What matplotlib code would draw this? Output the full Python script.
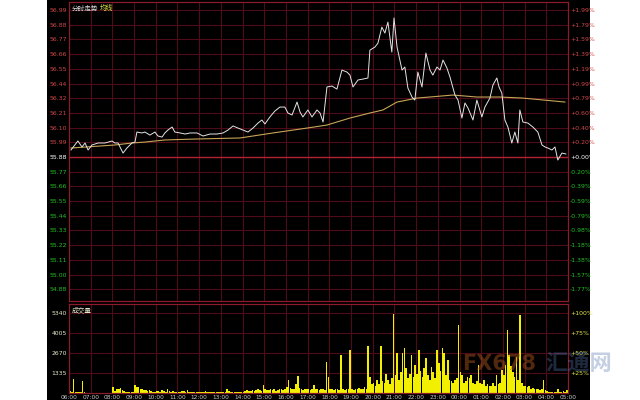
import matplotlib
matplotlib.use("Agg")
import matplotlib.pyplot as plt
from matplotlib.patches import Rectangle

# Datos (horas desde las 06:00)
price_t = [0.09, 0.37, 0.41, 0.60, 0.74, 0.88, 1.06, 1.34, 1.66, 1.98, 2.12, 2.26, 2.49, 2.67,
           2.90, 3.04, 3.13, 3.36, 3.50, 3.73, 3.96, 4.10, 4.29, 4.42, 4.56, 4.75, 4.88, 5.12,
           5.35, 5.58, 5.90, 6.18, 6.50, 6.82, 7.10, 7.33, 7.56, 7.79, 8.02, 8.25, 8.48, 8.71,
           8.89, 9.03, 9.26, 9.49, 9.72, 9.95, 10.09, 10.28, 10.51, 10.65, 10.78, 11.01, 11.20,
           11.43, 11.57, 11.71, 11.89, 12.12, 12.35, 12.58, 12.81, 12.95, 13.09, 13.32, 13.55,
           13.78, 13.87, 14.10, 14.24, 14.42, 14.56, 14.70, 14.88, 14.98, 15.12, 15.35, 15.48,
           15.62, 15.81, 15.94, 16.08, 16.27, 16.45, 16.64, 16.77, 16.96, 17.10, 17.24, 17.42,
           17.56, 17.70, 17.79, 17.93, 18.11, 18.25, 18.39, 18.62, 18.80, 19.03, 19.17, 19.40,
           19.54, 19.72, 19.82, 19.95, 20.09, 20.23, 20.41, 20.55, 20.69, 20.78, 20.92, 21.15,
           21.38, 21.61, 21.80, 21.94, 22.07, 22.26, 22.40, 22.53, 22.72, 22.90]
price = [55.933, 55.993, 56.001, 55.956, 55.986, 55.933, 55.971, 55.986, 55.986, 56.001, 55.986,
         55.986, 55.910, 55.948, 55.986, 55.993, 56.069, 56.062, 56.069, 56.046, 56.069, 56.039,
         56.031, 56.062, 56.084, 56.107, 56.069, 56.062, 56.054, 56.062, 56.062, 56.039, 56.054,
         56.054, 56.062, 56.084, 56.115, 56.099, 56.084, 56.069, 56.099, 56.137, 56.160, 56.130,
         56.183, 56.228, 56.258, 56.258, 56.213, 56.198, 56.296, 56.220, 56.183, 56.236, 56.183,
         56.236, 56.213, 56.145, 56.410, 56.417, 56.394, 56.538, 56.523, 56.500, 56.410, 56.463,
         56.470, 56.478, 56.689, 56.712, 56.742, 56.863, 56.818, 56.901, 56.674, 56.932, 56.712,
         56.538, 56.561, 56.402, 56.334, 56.311, 56.523, 56.410, 56.667, 56.538, 56.500, 56.561,
         56.538, 56.614, 56.553, 56.485, 56.402, 56.349, 56.311, 56.175, 56.289, 56.251, 56.160,
         56.311, 56.183, 56.258, 56.326, 56.425, 56.478, 56.410, 56.364, 56.160, 56.107, 55.986,
         56.069, 55.986, 56.236, 56.145, 56.137, 56.107, 56.069, 55.971, 55.956, 55.948, 55.933,
         55.956, 55.857, 55.910, 55.903]

avg_t = [0.09, 2.12, 2.90, 3.50, 4.42, 5.81, 7.88, 9.40, 10.97, 11.89, 12.95, 13.87, 14.47,
         15.12, 16.04, 17.70, 18.80, 19.86, 20.92, 22.86]
avg_price = [55.948, 55.971, 55.986, 55.993, 56.009, 56.016, 56.024, 56.062, 56.099, 56.122,
             56.175, 56.213, 56.236, 56.296, 56.326, 56.349, 56.334, 56.334, 56.326, 56.296]

# Volumen cada 5 minutos, una fila por hora (06:00 ... 04:00)
volume = [
    [120, 80, 930, 100, 60, 60, 50, 800, 40, 30, 30, 20],
    [30, 20, 20, 30, 20, 20, 30, 20, 20, 20, 30, 20],
    [400, 150, 300, 250, 320, 200, 150, 100, 80, 60, 50, 60],
    [530, 420, 380, 300, 250, 220, 200, 150, 180, 120, 100, 90],
    [120, 150, 100, 200, 150, 100, 250, 120, 100, 150, 80, 100],
    [100, 80, 150, 120, 100, 200, 90, 80, 100, 70, 60, 80],
    [80, 60, 100, 150, 80, 60, 70, 50, 60, 50, 60, 80],
    [70, 60, 50, 250, 150, 80, 60, 100, 70, 60, 80, 60],
    [100, 150, 200, 150, 120, 200, 150, 180, 250, 200, 150, 530],
    [250, 200, 180, 300, 200, 250, 150, 200, 300, 250, 200, 300],
    [400, 870, 350, 250, 300, 600, 1130, 350, 250, 200, 300, 250],
    [250, 200, 300, 530, 250, 300, 200, 250, 300, 200, 2070, 1070],
    [300, 250, 200, 300, 250, 200, 2540, 250, 200, 300, 250, 2870],
    [250, 200, 300, 250, 350, 300, 250, 400, 300, 3140, 1070, 600],
    [700, 500, 900, 600, 3140, 800, 700, 1300, 900, 600, 1000, 5270],
    [1200, 2670, 900, 1400, 2670, 3000, 1700, 1000, 1300, 2540, 1100, 1870],
    [1300, 2870, 1500, 1100, 1700, 2340, 1200, 900, 1740, 1400, 1000, 2900],
    [2000, 1500, 3000, 2670, 1200, 2200, 900, 800, 700, 900, 1000, 4540],
    [1400, 1200, 700, 800, 1100, 1000, 1200, 700, 600, 800, 1870, 700],
    [600, 900, 500, 600, 500, 450, 700, 500, 1200, 600, 700, 1540],
    [1200, 1870, 4200, 2540, 1800, 1400, 1100, 2400, 900, 5200, 700, 500],
    [500, 400, 450, 300, 350, 250, 300, 250, 200, 300, 870, 200],
    [150, 100, 100, 80, 100, 80, 300, 100, 80, 150, 100, 200],
]

time_labels = ["06:00", "07:00", "08:00", "09:00", "10:00", "11:00", "12:00", "13:00",
               "14:00", "15:00", "16:00", "17:00", "18:00", "19:00", "20:00", "21:00",
               "22:00", "23:00", "00:00", "01:00", "02:00", "03:00", "04:00", "05:00"]
price_labels = ["56.99", "56.88", "56.77", "56.66", "56.55", "56.44", "56.32", "56.21",
                "56.10", "55.99", "55.88", "55.77", "55.66", "55.55", "55.44", "55.33",
                "55.22", "55.11", "55.00", "54.88"]
pct_labels = ["+1.99%", "+1.79%", "+1.59%", "+1.39%", "+1.19%", "+0.99%", "+0.79%", "+0.60%",
              "+0.40%", "+0.20%", "+0.00%", "-0.20%", "-0.39%", "-0.59%", "-0.79%", "-0.98%",
              "-1.18%", "-1.38%", "-1.57%", "-1.77%"]
vol_ticks = [1335, 2670, 4005, 5340]
vol_pct_labels = ["+25%", "+50%", "+75%", "+100%"]

base_price = 55.88
step = 0.1112

GRID = "#4e0c18"
FRAME = "#8c1c2c"
UP = "#d04848"
DOWN = "#22c022"

fig = plt.figure(figsize=(6.4, 4), dpi=100)
fig.patches.append(Rectangle((47 / 640, 0), 543 / 640, 1, transform=fig.transFigure,
                             facecolor="black", edgecolor="none", zorder=-10))

# Panel de precios
ax = fig.add_axes([69 / 640, 1 - 301 / 400, 499 / 640, 299 / 400])
ax.set_facecolor("black")
ax.set_xlim(0, 23)
ax.set_ylim(base_price - 9.8 * step, base_price + 10.55 * step)

tick_pos = [base_price + (10 - i) * step for i in range(len(price_labels))]
ax.set_yticks(tick_pos)
ax.set_yticklabels(price_labels)
ax.set_xticks(range(24))
ax.set_xticklabels([])
ax.tick_params(length=0, pad=1.5, labelsize=4.4)
for i, lab in enumerate(ax.get_yticklabels()):
    lab.set_color(UP if i < 10 else ("white" if i == 10 else DOWN))
ax.grid(True, color=GRID, lw=0.8)
ax.axhline(base_price, color="#b02232", lw=1.0)
for s in ax.spines.values():
    s.set_color(FRAME)

ax2 = ax.twinx()
ax2.set_ylim(ax.get_ylim())
ax2.set_yticks(tick_pos)
ax2.set_yticklabels(pct_labels)
ax2.tick_params(length=0, pad=1.5, labelsize=4.4)
for i, lab in enumerate(ax2.get_yticklabels()):
    lab.set_color(UP if i < 10 else ("white" if i == 10 else DOWN))
for s in ax2.spines.values():
    s.set_color(FRAME)

ax.plot(avg_t, avg_price, color="#c8a457", lw=0.8)
ax.plot(price_t, price, color="#e4e4e4", lw=0.7)

ax.text(0.006, 0.992, "分时走势", transform=ax.transAxes, fontsize=4.8, color="#e0e0e0",
        va="top", family=["Noto Sans CJK SC", "DejaVu Sans"])
ax.text(0.062, 0.992, "均线", transform=ax.transAxes, fontsize=4.8, color="#e8e84a",
        va="top", family=["Noto Sans CJK SC", "DejaVu Sans"])

# Panel de volumen
axv = fig.add_axes([69 / 640, 7 / 400, 499 / 640, 89 / 400])
axv.set_facecolor("black")
bar_t = []
bar_v = []
for h, row in enumerate(volume):
    for k, v in enumerate(row):
        bar_t.append(h + (k + 0.5) / 12)
        bar_v.append(v)
axv.bar(bar_t, bar_v, width=0.075, color="#f2f000", linewidth=0)
axv.set_xlim(0, 23)
axv.set_ylim(0, 5340 * 89 / 80)
axv.set_yticks(vol_ticks)
axv.set_yticklabels([str(v) for v in vol_ticks], color="#e6e6c8")
axv.set_xticks(range(24))
axv.set_xticklabels(time_labels, color="#c8c8c8")
axv.tick_params(length=0, pad=1.5, labelsize=4.4)
axv.tick_params(axis="x", labelsize=4.2, pad=1.5)
axv.grid(True, color=GRID, lw=0.8)
axv.set_axisbelow(True)
for s in axv.spines.values():
    s.set_color(FRAME)
axv.spines["top"].set_color("#b02232")

axv2 = axv.twinx()
axv2.set_ylim(axv.get_ylim())
axv2.set_yticks(vol_ticks)
axv2.set_yticklabels(vol_pct_labels, color="#e8e84a")
axv2.tick_params(length=0, pad=1.5, labelsize=4.4)
for s in axv2.spines.values():
    s.set_color(FRAME)

axv.text(0.006, 0.97, "成交量", transform=axv.transAxes, fontsize=4.8, color="#e6e6c8",
         va="top", family=["Noto Sans CJK SC", "DejaVu Sans"])

# Marca de agua
fig.text(462 / 640, 1 - 364 / 400, "FX678", fontsize=15, fontweight="bold", color="#b45a1e",
         alpha=0.45, va="center", zorder=5)
fig.text(545 / 640, 1 - 364 / 400, "汇通网", fontsize=16, fontweight="bold", color="#5a78b4",
         alpha=0.35, va="center", zorder=5, family=["Noto Sans CJK SC", "DejaVu Sans"])

fig.savefig("out.png", dpi=100, facecolor="white")
